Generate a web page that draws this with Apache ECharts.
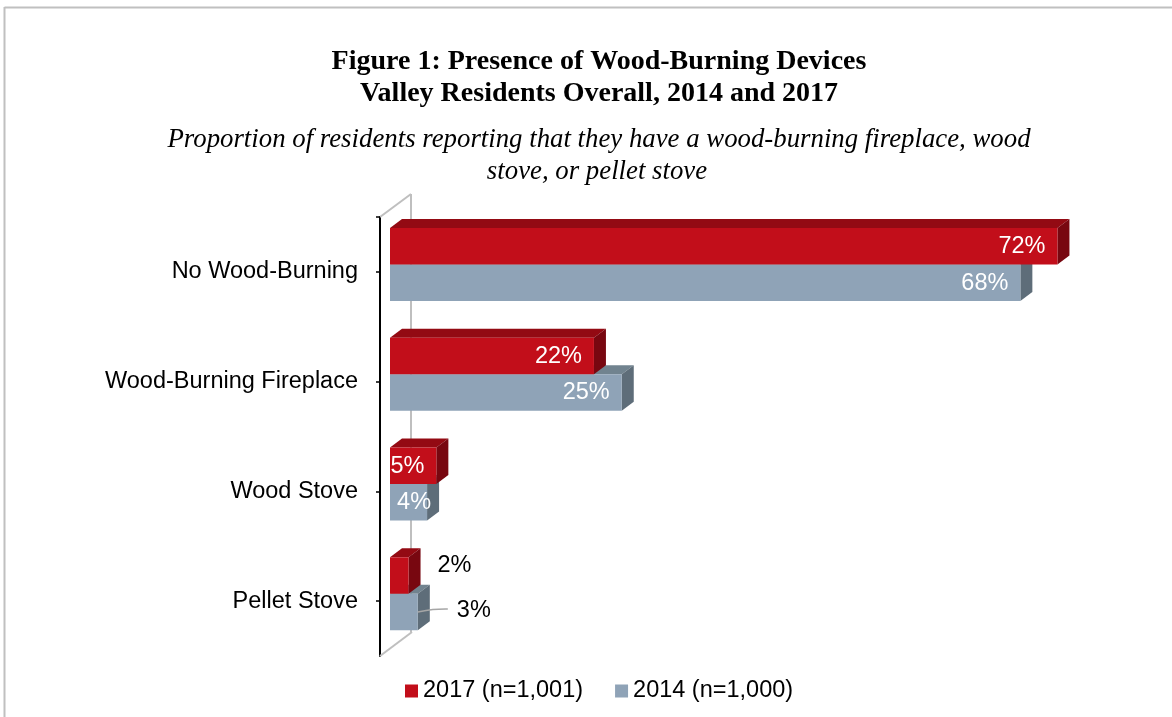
<!DOCTYPE html>
<html>
<head>
<meta charset="utf-8">
<script src="https://cdn.jsdelivr.net/npm/echarts@6/dist/echarts.min.js"></script>
<style>
html,body{margin:0;padding:0;background:#fff;}
#chart{width:1172px;height:717px;}
</style>
</head>
<body>
<div id="chart"></div>
<script>
// ---- data ----
const categories = ['No Wood-Burning', 'Wood-Burning Fireplace', 'Wood Stove', 'Pellet Stove'];
const seriesNames = ['2017 (n=1,001)', '2014 (n=1,000)'];
const values2017 = [72, 22, 5, 2];
const values2014 = [68, 25, 4, 3];
const titleLines = ['Figure 1: Presence of Wood-Burning Devices', 'Valley Residents Overall, 2014 and 2017'];
const subtitleLines = ['Proportion of residents reporting that they have a wood-burning fireplace, wood', 'stove, or pellet stove'];

// ---- layout / style ----
const G = {left: 390, top: 209.6, width: 741.6, height: 439};
const DX = 12, DY = -9;          // bar depth projection
const AX = {dx: -10, dy: 7.4};   // front axis offset from bar grid
const BACK = {dx: 21, dy: -15.6};// back wall offset from bar grid
const colors = {
  red: {front: '#C20E1A', top: '#930A13', side: '#780710'},
  gray: {front: '#8FA3B7', top: '#71838F', side: '#5E6D79'}
};
const frameColor = '#BFBFBF';
const sansFont = 'Liberation Sans, Arial, sans-serif';
const serifFont = 'Liberation Serif, Times New Roman, serif';
const labelFont = '23.5px ' + sansFont;

function makeRender(isTop, pal) {
  return function (params, api) {
    const v = api.value(0), c = api.value(1);
    const p0 = api.coord([0, c]);
    const p1 = api.coord([v, c]);
    const band = api.size([0, 1])[1];
    const h = band * 0.332;
    const x0 = p0[0], x1 = p1[0];
    const y = isTop ? p0[1] - h : p0[1];
    const cy = y + h / 2;
    const w = x1 - x0;
    const children = [
      {type: 'polygon', shape: {points: [[x0, y], [x1, y], [x1 + DX, y + DY], [x0 + DX, y + DY]]}, style: {fill: pal.top}},
      {type: 'polygon', shape: {points: [[x1, y], [x1 + DX, y + DY], [x1 + DX, y + h + DY], [x1, y + h]]}, style: {fill: pal.side}},
      {type: 'rect', shape: {x: x0, y: y, width: w, height: h}, style: {fill: pal.front}}
    ];
    const txt = v + '%';
    if (w < 32) {
      if (isTop) {
        children.push({type: 'text', style: {text: txt, x: x1 + 29, y: cy - 10, fill: '#000', font: labelFont, textAlign: 'left', textVerticalAlign: 'middle'}});
      } else {
        children.push({type: 'polyline', shape: {points: [[x1, cy], [x1 + 15, cy - 2.5], [x1 + 30, cy - 3]], smooth: 0.4}, style: {stroke: '#A6A6A6', lineWidth: 1.5, fill: null}});
        children.push({type: 'text', style: {text: txt, x: x1 + 39, y: cy - 1, fill: '#000', font: labelFont, textAlign: 'left', textVerticalAlign: 'middle'}});
      }
    } else {
      const rx = w < 45 ? x1 + 4 : x1 - 12;
      children.push({type: 'text', style: {text: txt, x: rx, y: cy + 0.5, fill: '#fff', font: labelFont, textAlign: 'right', textVerticalAlign: 'middle'}});
    }
    return {type: 'group', children: children};
  };
}

const chart = echarts.init(document.getElementById('chart'));

const fx = G.left + AX.dx, fTop = G.top + AX.dy, fBot = G.top + G.height + AX.dy;
const bx = G.left + BACK.dx, bTop = G.top + BACK.dy, bBot = G.top + G.height + BACK.dy - 1;

const option = {
  animation: false,
  backgroundColor: '#fff',
  grid: [
    {left: G.left, top: G.top, width: G.width, height: G.height},
    {left: fx, top: fTop, width: 1, height: G.height}
  ],
  xAxis: [
    {type: 'value', gridIndex: 0, min: 0, max: 80, show: false},
    {type: 'value', gridIndex: 1, min: 0, max: 1, show: false}
  ],
  yAxis: [
    {type: 'category', gridIndex: 0, data: categories, inverse: true, show: false},
    {type: 'category', gridIndex: 1, data: categories, inverse: true,
     axisLine: {show: true, lineStyle: {color: '#000', width: 2}},
     axisTick: {show: true, alignWithLabel: true, length: 4, lineStyle: {color: '#000', width: 1.5}},
     axisLabel: {color: '#000', fontSize: 23.5, fontFamily: sansFont, margin: 22, padding: [2, 0, 0, 0]},
     splitLine: {show: false}}
  ],
  legend: {
    data: seriesNames,
    left: 400, top: 674,
    icon: 'rect', itemWidth: 13, itemHeight: 13, itemGap: 32,
    textStyle: {color: '#000', fontSize: 23.5, fontFamily: sansFont}
  },
  graphic: [
    {type: 'line', z: 1, shape: {x1: 4.5, y1: 7.5, x2: 1172, y2: 7.5}, style: {stroke: '#C0C0C0', lineWidth: 2}},
    {type: 'line', z: 1, shape: {x1: 4.5, y1: 7, x2: 4.5, y2: 717}, style: {stroke: '#C0C0C0', lineWidth: 2}},
    {type: 'line', z: 1, shape: {x1: bx, y1: bTop, x2: bx, y2: bBot}, style: {stroke: frameColor, lineWidth: 2}},
    {type: 'line', z: 1, shape: {x1: fx, y1: fTop, x2: bx, y2: bTop}, style: {stroke: frameColor, lineWidth: 2}},
    {type: 'line', z: 1, shape: {x1: fx, y1: fBot, x2: bx + 1, y2: bBot}, style: {stroke: frameColor, lineWidth: 2}},
    {type: 'line', z: 10, shape: {x1: fx - 4, y1: fTop, x2: fx, y2: fTop}, style: {stroke: '#000', lineWidth: 1.5}},
    {type: 'text', z: 10, style: {text: titleLines[0], x: 599, y: 62, textAlign: 'center', textVerticalAlign: 'middle', font: 'bold 28px ' + serifFont, fill: '#000'}},
    {type: 'text', z: 10, style: {text: titleLines[1], x: 599, y: 94, textAlign: 'center', textVerticalAlign: 'middle', font: 'bold 28px ' + serifFont, fill: '#000'}},
    {type: 'text', z: 10, style: {text: subtitleLines[0], x: 599, y: 140, textAlign: 'center', textVerticalAlign: 'middle', font: 'italic 26.8px ' + serifFont, fill: '#000'}},
    {type: 'text', z: 10, style: {text: subtitleLines[1], x: 597, y: 172, textAlign: 'center', textVerticalAlign: 'middle', font: 'italic 26.8px ' + serifFont, fill: '#000'}}
  ],
  series: [
    {name: seriesNames[0], type: 'custom', xAxisIndex: 0, yAxisIndex: 0, z: 4,
     itemStyle: {color: colors.red.front},
     renderItem: makeRender(true, colors.red),
     encode: {x: 0, y: 1},
     data: values2017.map((v, i) => [v, i])},
    {name: seriesNames[1], type: 'custom', xAxisIndex: 0, yAxisIndex: 0, z: 3,
     itemStyle: {color: colors.gray.front},
     renderItem: makeRender(false, colors.gray),
     encode: {x: 0, y: 1},
     data: values2014.map((v, i) => [v, i])}
  ]
};
chart.setOption(option);
</script>
</body>
</html>
